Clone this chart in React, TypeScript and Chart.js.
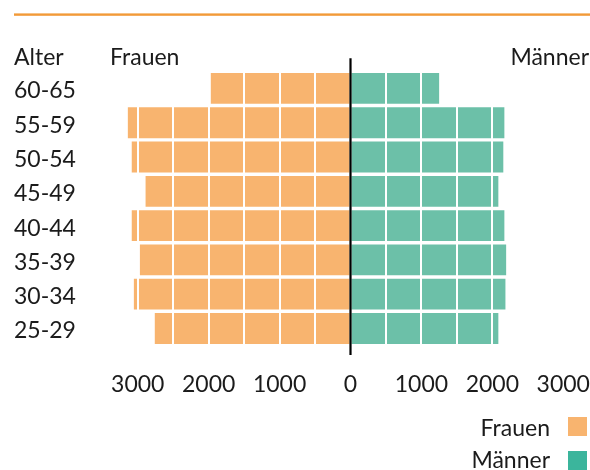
import React, { useEffect, useRef } from 'react';
import { Chart, registerables } from 'chart.js';

Chart.register(...registerables);

// ---- Data ----
const ageGroups = ['60-65', '55-59', '50-54', '45-49', '40-44', '35-39', '30-34', '25-29'];
const frauen = [1970, 3140, 3085, 2890, 3085, 2970, 3055, 2760];
const maenner = [1250, 2170, 2155, 2085, 2170, 2195, 2185, 2085];
const xTickValues = [-3000, -2500, -2000, -1500, -1000, -500, 0, 500, 1000, 1500, 2000, 2500, 3000];
const seriesLabels = ['Frauen', 'Männer'];
const headerLeft = 'Alter';

const FONT = 'Lato, "Noto Sans", sans-serif';
const FSIZE = 23;
const TEXT = '#1b1b1b';
const ORANGE_BAR = '#f8b46f';
const GREEN_BAR = '#6cc0a8';
const ORANGE_LEG = '#f8b46f';
const GREEN_LEG = '#3bb59c';

const decorPlugin = {
  id: 'decor',
  afterDatasetsDraw(chart: any) {
    const { ctx, chartArea, scales } = chart;
    const x0 = scales.x.getPixelForValue(0);
    ctx.save();
    ctx.strokeStyle = '#000';
    ctx.lineWidth = 2.2;
    ctx.beginPath();
    ctx.moveTo(x0, chartArea.top - 13);
    ctx.lineTo(x0, chartArea.bottom + 9.5);
    ctx.stroke();
    ctx.restore();
  },
  afterDraw(chart: any) {
    const { ctx } = chart;
    ctx.save();
    // top orange rule
    ctx.fillStyle = '#f29a38';
    ctx.fillRect(14, 13.4, 576, 2.4);
    // headers
    ctx.font = `${FSIZE}px ${FONT}`;
    ctx.fillStyle = TEXT;
    ctx.textBaseline = 'alphabetic';
    ctx.textAlign = 'left';
    ctx.fillText(headerLeft, 14, 65);
    ctx.fillText(seriesLabels[0], 110, 65);
    ctx.textAlign = 'right';
    ctx.fillText(seriesLabels[1], 589, 65);
    // legend
    const rows = [
      { label: seriesLabels[0], color: ORANGE_LEG, top: 417, base: 436 },
      { label: seriesLabels[1], color: GREEN_LEG, top: 451, base: 468.3 },
    ];
    rows.forEach((r) => {
      ctx.fillStyle = TEXT;
      ctx.textAlign = 'right';
      ctx.fillText(r.label, 550, r.base);
      ctx.fillStyle = r.color;
      ctx.fillRect(568, r.top, 19, 19);
    });
    ctx.restore();
  },
};

export default function App() {
  const ref = useRef<HTMLCanvasElement | null>(null);

  useEffect(() => {
    if (!ref.current) return;
    const chart = new Chart(ref.current, {
      type: 'bar',
      data: {
        labels: ageGroups,
        datasets: [
          {
            label: seriesLabels[0],
            data: frauen.map((v) => -v),
            backgroundColor: ORANGE_BAR,
            borderWidth: 0,
            barPercentage: 0.9,
            categoryPercentage: 1,
          },
          {
            label: seriesLabels[1],
            data: maenner,
            backgroundColor: GREEN_BAR,
            borderWidth: 0,
            barPercentage: 0.9,
            categoryPercentage: 1,
          },
        ],
      },
      options: {
        indexAxis: 'y',
        responsive: false,
        animation: false,
        layout: { padding: { top: 71.3, bottom: 72.4, left: 14, right: 5.5 } },
        plugins: {
          legend: { display: false },
          tooltip: { enabled: false },
        },
        scales: {
          x: {
            type: 'linear',
            min: -3300,
            max: 3300,
            stacked: true,
            afterBuildTicks: (s: any) => {
              s.ticks = xTickValues.map((v) => ({ value: v }));
            },
            afterFit: (s: any) => {
              s.height = 52;
              s.paddingLeft = 0;
              s.paddingRight = 0;
            },
            ticks: {
              autoSkip: false,
              maxRotation: 0,
              padding: 25,
              color: TEXT,
              font: { family: FONT, size: FSIZE },
              callback: (v: any) => (Number(v) % 1000 === 0 ? String(Math.abs(Number(v))) : ''),
            },
            grid: {
              z: 1,
              drawTicks: false,
              lineWidth: 2,
              color: (c: any) => (c.tick && c.tick.value !== 0 ? '#ffffff' : 'rgba(0,0,0,0)'),
            },
            border: { display: false },
          },
          y: {
            type: 'category',
            stacked: true,
            afterFit: (s: any) => {
              s.width = 102.5;
              s.paddingTop = 0;
              s.paddingBottom = 0;
            },
            ticks: {
              crossAlign: 'far',
              padding: 0,
              labelOffset: 2.5,
              color: TEXT,
              font: { family: FONT, size: FSIZE },
            },
            grid: { display: false, drawTicks: false },
            border: { display: false },
          },
        },
      },
      plugins: [decorPlugin],
    } as any);
    return () => chart.destroy();
  }, []);

  return (
    <div style={{ position: 'absolute', left: 0, top: 0, width: 590, height: 470, background: '#fff' }}>
      <canvas ref={ref} width={590} height={470} style={{ display: 'block' }} />
    </div>
  );
}
